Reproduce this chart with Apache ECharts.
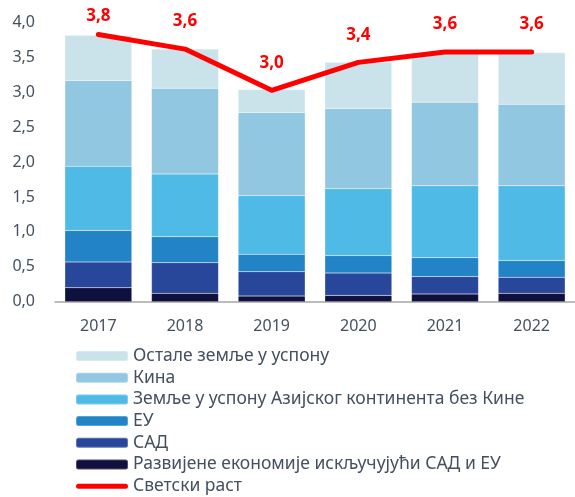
<!DOCTYPE html>
<html>
<head>
<meta charset="utf-8">
<script src="https://cdn.jsdelivr.net/npm/echarts@6/dist/echarts.min.js"></script>
<style>
  html, body { margin: 0; padding: 0; background: #fff; }
  #chart { width: 575px; height: 497px; }
</style>
</head>
<body>
<div id="chart"></div>
<script>
const years = ['2017', '2018', '2019', '2020', '2021', '2022']

// stacked from the bottom up
const razvijene = [0.20, 0.12, 0.08, 0.09, 0.11, 0.12]
const sad = [0.37, 0.44, 0.35, 0.32, 0.25, 0.23]
const eu = [0.45, 0.37, 0.25, 0.25, 0.27, 0.24]
const azija = [0.92, 0.90, 0.84, 0.96, 1.03, 1.07]
const kina = [1.23, 1.23, 1.19, 1.15, 1.20, 1.17]
const ostale = [0.65, 0.56, 0.33, 0.66, 0.71, 0.74]
const svetskiRast = [3.83, 3.62, 3.03, 3.43, 3.58, 3.58]

const names = [
  'Развијене економије искључујући САД и ЕУ',
  'САД',
  'ЕУ',
  'Земље у успону Азијског континента без Кине',
  'Кина',
  'Остале земље у успону'
]
const lineName = 'Светски раст'
const colors = ['#10103F', '#29479A', '#2283C6', '#4FBAE6', '#91C7E1', '#CAE3EB']
const stacks = [razvijene, sad, eu, azija, kina, ostale]

const textColor = '#44505F'
const font = '"Noto Sans", sans-serif'

const chart = echarts.init(document.getElementById('chart'))

const barSeries = stacks.map((vals, i) => ({
  name: names[i],
  type: 'bar',
  stack: 'total',
  barWidth: 67,
  data: vals,
  itemStyle: {
    color: colors[i],
    borderColor: 'rgba(255,255,255,0.25)',
    borderWidth: 0.5
  },
  emphasis: { disabled: true }
}))

// first label sits closer to the line (top of the chart)
const lineData = svetskiRast.map((v, i) => i === 0
  ? { value: v, label: { distance: 10 } }
  : v)

chart.setOption({
  animation: false,
  textStyle: { fontFamily: font },
  grid: { left: 55, top: 22.6, width: 525, height: 279.1 },
  xAxis: {
    type: 'category',
    data: years,
    axisLine: { lineStyle: { color: '#A6A6A6', width: 1.5 } },
    axisTick: { show: false },
    axisLabel: { color: textColor, fontSize: 16, margin: 17, fontFamily: font }
  },
  yAxis: {
    type: 'value',
    min: 0,
    max: 4,
    interval: 0.5,
    splitLine: { show: false },
    axisLine: { show: false },
    axisLabel: {
      color: textColor,
      fontSize: 16,
      margin: 20,
      fontFamily: font,
      formatter: v => v.toFixed(1).replace('.', ',')
    }
  },
  legend: {
    orient: 'vertical',
    left: 75,
    top: 347,
    height: 170,
    padding: 0,
    itemWidth: 52,
    itemHeight: 10,
    itemGap: 3.7,
    textStyle: { color: textColor, fontSize: 17.5, fontFamily: font },
    data: [
      names[5], names[4], names[3], names[2], names[1], names[0],
      {
        name: lineName,
        icon: 'path://M2.5,0 H49.5 A2.5,2.5 0 0 1 49.5,5 H2.5 A2.5,2.5 0 0 1 2.5,0 Z',
        itemStyle: { color: '#FF0000' }
      }
    ]
  },
  series: barSeries.concat([{
    name: lineName,
    type: 'line',
    data: lineData,
    symbol: 'circle',
    symbolSize: 0,
    showSymbol: true,
    lineStyle: { color: '#FF0000', width: 5, cap: 'round', join: 'round' },
    itemStyle: { color: '#FF0000' },
    label: {
      show: true,
      position: 'top',
      distance: 19,
      color: '#FF0000',
      fontWeight: 'bold',
      fontSize: 17,
      fontFamily: font,
      formatter: p => p.value.toFixed(1).replace('.', ',')
    },
    emphasis: { disabled: true },
    z: 5
  }])
})
</script>
</body>
</html>
